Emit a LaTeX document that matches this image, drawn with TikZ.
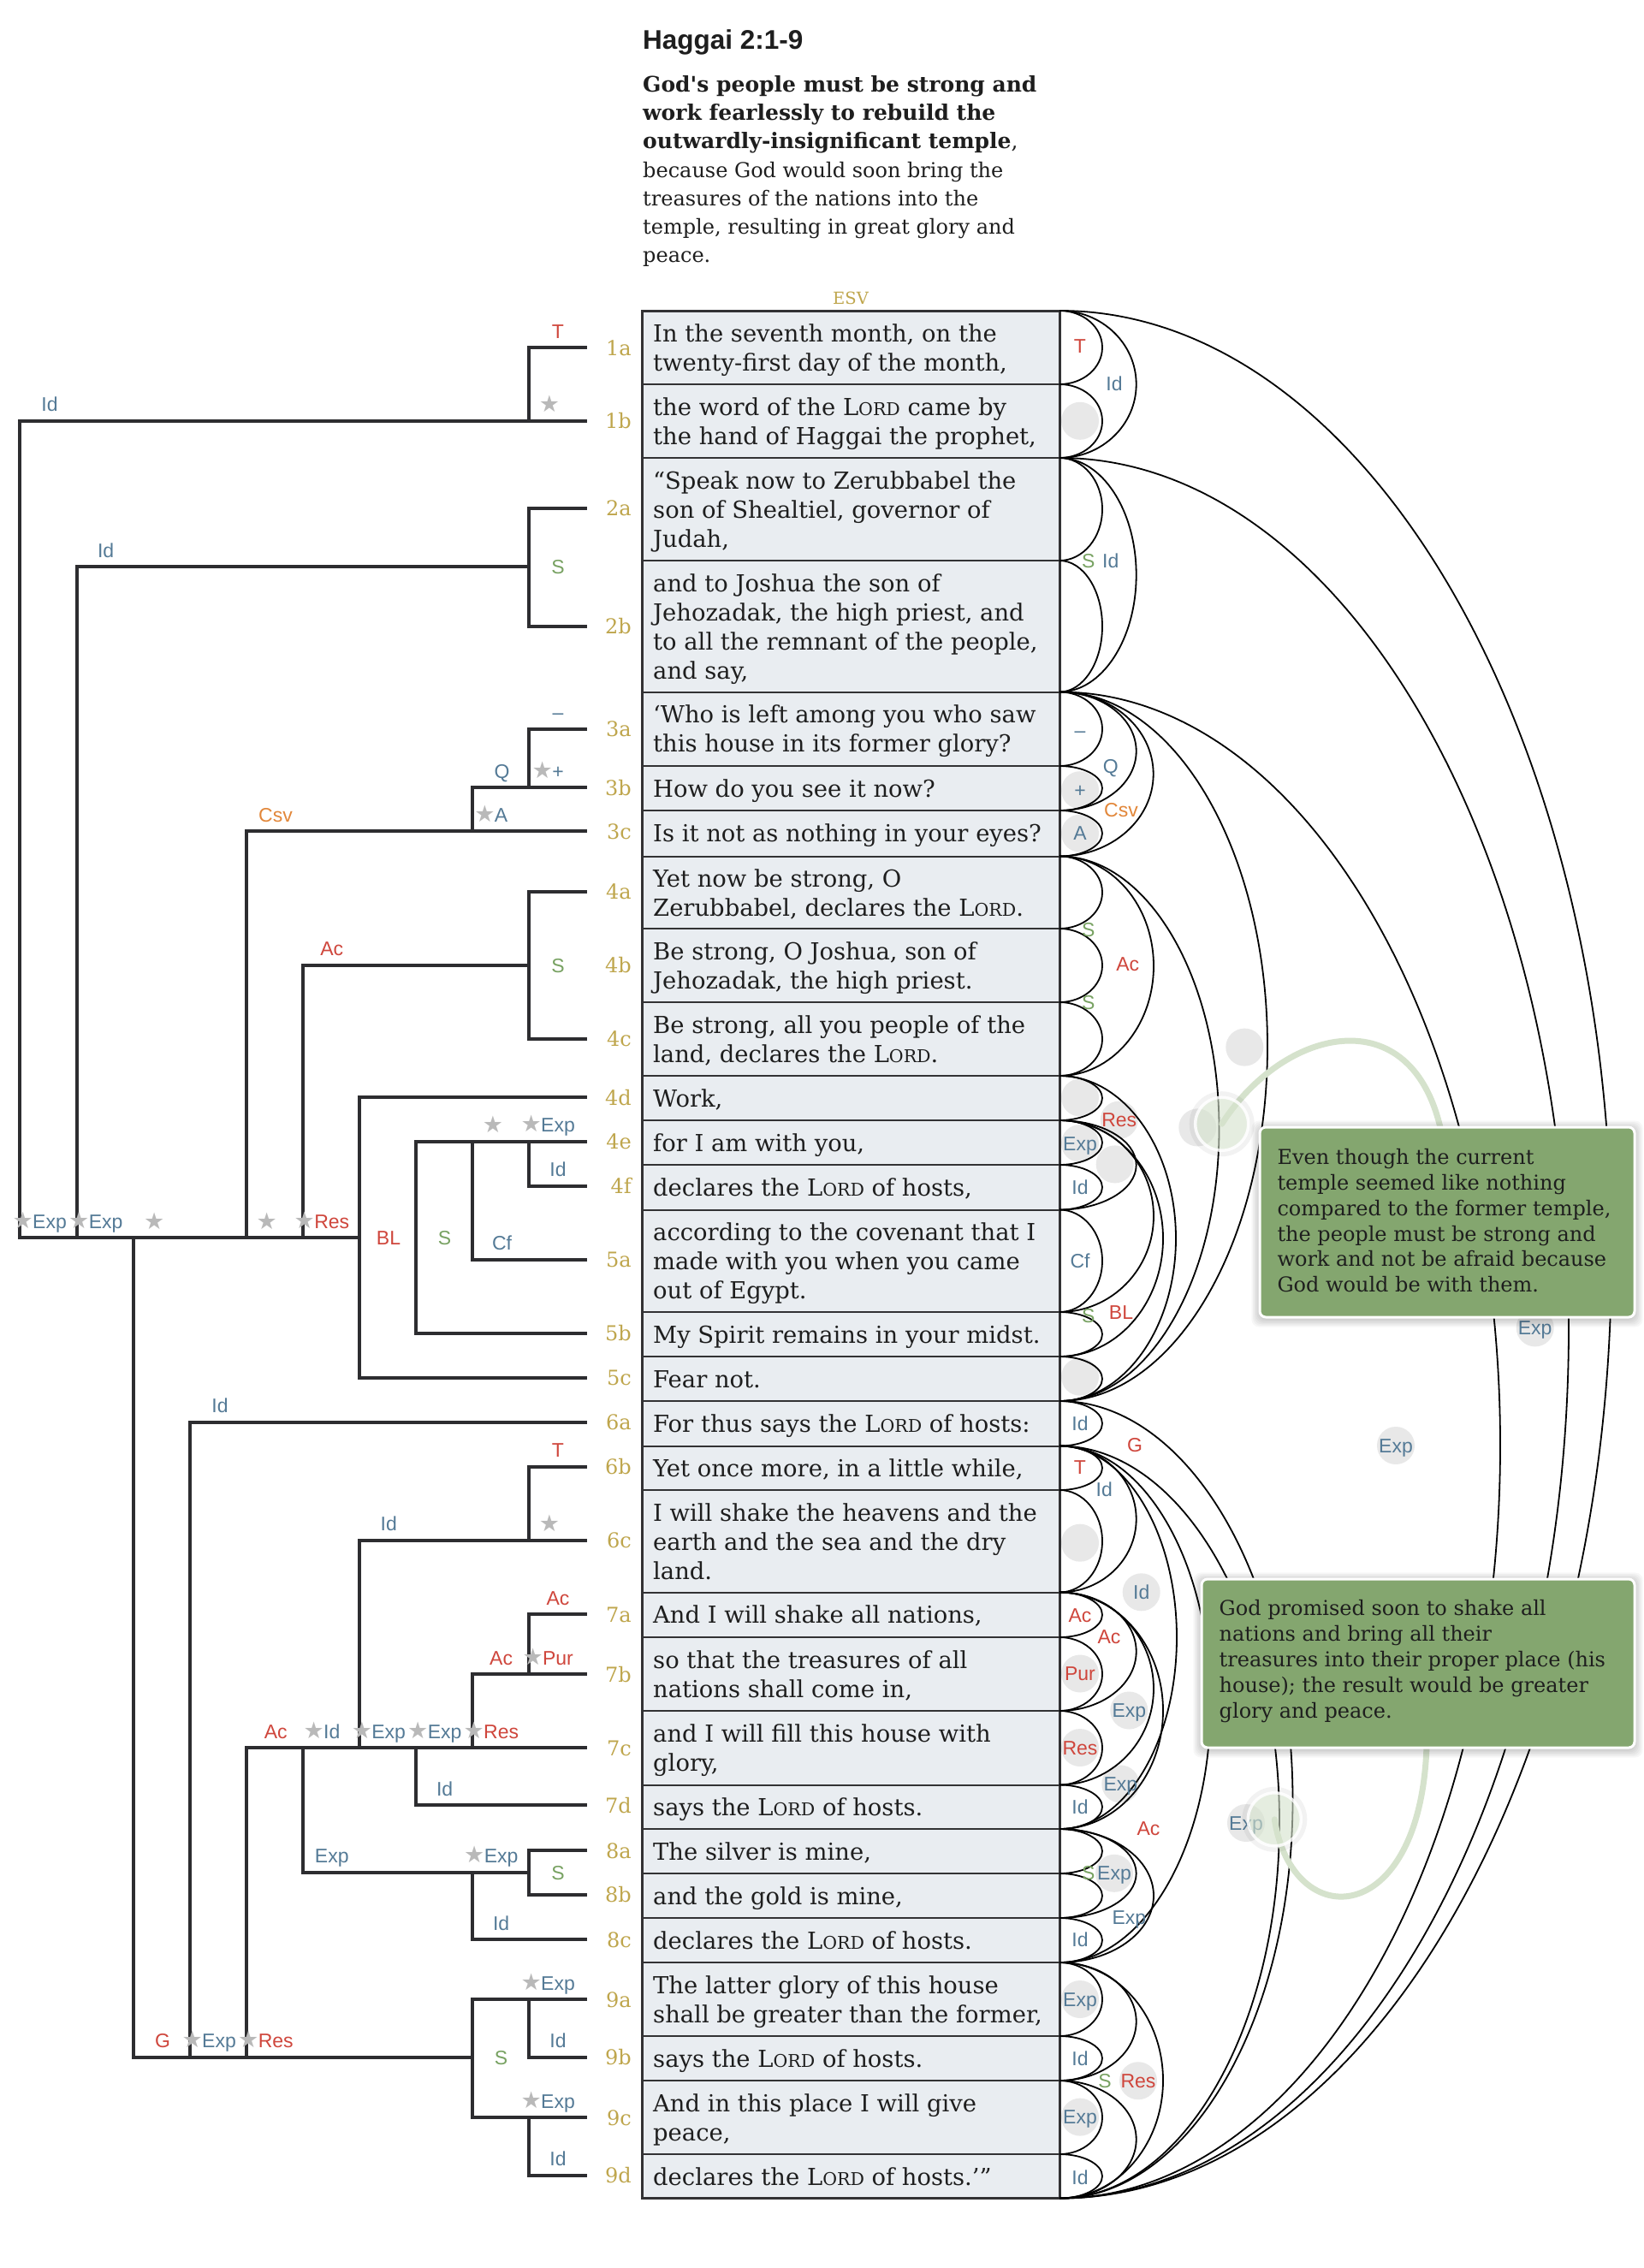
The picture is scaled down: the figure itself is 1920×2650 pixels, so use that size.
\documentclass[tikz,border=0pt]{standalone}
\usepackage{fontspec}
\setmainfont{DejaVu Serif}
\newfontfamily\labf{Liberation Sans}
\newfontfamily\starf{DejaVu Sans}
\definecolor{gold}{RGB}{191,166,77}
\definecolor{lblue}{RGB}{84,122,150}
\definecolor{lred}{RGB}{207,70,60}
\definecolor{lgreen}{RGB}{120,162,98}
\definecolor{lorange}{RGB}{226,135,58}
\definecolor{stargray}{RGB}{185,185,185}
\definecolor{cellfill}{RGB}{233,237,241}
\definecolor{cellline}{RGB}{50,50,52}
\definecolor{linec}{RGB}{45,45,48}
\definecolor{textc}{RGB}{30,30,30}
\definecolor{circfill}{RGB}{232,232,232}
\definecolor{boxgreen}{RGB}{132,166,111}
\definecolor{palegreen}{RGB}{213,226,204}
\newcommand\Lrd{L{\fontsize{20.5}{20}\selectfont ORD}}
\newcommand\sg[5]{\node[lab,text=#4] (#1) at (#2,#3) {#5};}
\newcommand\ssg[5]{\node[lab,text=#4] (#1) at (#2,#3) {#5};\node[starn] (#1s) at ([xshift=1pt]#1.base west) {★};}
\newcommand\lst[3]{\node[starn,anchor=base] (#1) at (#2,#3) {★};}
\newcommand\rl[5]{\node[lab,text=#4] (#1) at (#2,#3+8) {#5};}
\newcommand\gc[3]{\fill[circfill] (#2,#3) coordinate (#1) circle[radius=22pt];}
\begin{document}
\begin{tikzpicture}[x=1pt,y=-1pt,
  tline/.style={draw=linec, line width=4pt, line cap=rect, line join=miter},
  cellbox/.style={fill=cellfill, draw=cellline, line width=2pt},
  arcl/.style={draw=black, line width=1.8pt},
  vt/.style={anchor=base west, inner sep=0pt, text=textc, font=\fontsize{27.4}{34.2}\selectfont},
  vl/.style={anchor=base east, inner sep=0pt, text=gold, font=\fontsize{24}{24}\selectfont},
  lab/.style={anchor=base, inner sep=0pt, font=\labf\fontsize{23}{23}\selectfont},
  starn/.style={anchor=base east, inner sep=0pt, text=stargray, font=\starf\fontsize{27}{27}\selectfont},
  bt/.style={anchor=base west, inner sep=0pt, text=textc, font=\fontsize{24}{29.8}\selectfont},
  hd/.style={anchor=base west, inner sep=0pt, text=textc, font=\fontsize{24}{33}\selectfont},
  hb/.style={anchor=base west, inner sep=0pt, text=textc, font=\bfseries\fontsize{25}{33}\selectfont}]
\useasboundingbox (0,0) rectangle (1920,2650);
\fill[white] (0,0) rectangle (1920,2650);

% header
\node[anchor=base west, inner sep=0pt, text=textc, font=\labf\bfseries\fontsize{31.5}{31.5}\selectfont] (title) at (751,57) {Haggai 2:1-9};
\node[hb] (h1) at (751,107) {God\textquotesingle s people must be strong and};
\node[hb] (h2) at (751,140) {work fearlessly to rebuild the};
\node[hb] (h3) at (751,173.5) {outwardly-insignificant temple{\mdseries ,}};
\node[hd] (h4) at (751,207) {because God would soon bring the};
\node[hd] (h5) at (751,240) {treasures of the nations into the};
\node[hd] (h6) at (751,273) {temple, resulting in great glory and};
\node[hd] (h7) at (751,306.5) {peace.};
\node[anchor=base, inner sep=0pt, text=gold, font=\fontsize{19.5}{19.5}\selectfont] (esv) at (994,355) {ESV};

% table cells
\foreach \a/\b in {363/449,449/535,535/655,655/808.5,808.5/895,895/947,947/1000.5,1000.5/1085,1085/1171,1171/1257,1257/1309,1309/1361,1361/1413.5,1413.5/1533,1533/1585,1585/1637,1637/1689.5,1689.5/1741,1741/1860.5,1860.5/1913,1913/1999,1999/2085.5,2085.5/2137,2137/2189,2189/2241,2241/2293,2293/2379,2379/2431,2431/2517,2517/2568.5}
  {\draw[cellbox] (750,\a) rectangle (1238,\b);}
\draw[draw=cellline, line width=3pt] (750,363) rectangle (1238,2568.5);

% table text
\node[vt] (t1a1) at (763,399) {In the seventh month, on the};
\node[vt] (t1a2) at (763,433.2) {twenty-first day of the month,};
\node[vt] (t1b1) at (763,485) {the word of the \Lrd{} came by};
\node[vt] (t1b2) at (763,519.2) {the hand of Haggai the prophet,};
\node[vt] (t2a1) at (763,571) {“Speak now to Zerubbabel the};
\node[vt] (t2a2) at (763,605.2) {son of Shealtiel, governor of};
\node[vt] (t2a3) at (763,639.4) {Judah,};
\node[vt] (t2b1) at (763,691) {and to Joshua the son of};
\node[vt] (t2b2) at (763,725.2) {Jehozadak, the high priest, and};
\node[vt] (t2b3) at (763,759.4) {to all the remnant of the people,};
\node[vt] (t2b4) at (763,793.6) {and say,};
\node[vt] (t3a1) at (763,844.5) {‘Who is left among you who saw};
\node[vt] (t3a2) at (763,878.7) {this house in its former glory?};
\node[vt] (t3b1) at (763,931) {How do you see it now?};
\node[vt] (t3c1) at (763,983) {Is it not as nothing in your eyes?};
\node[vt] (t4a1) at (763,1036.5) {Yet now be strong, O};
\node[vt] (t4a2) at (763,1070.7) {Zerubbabel, declares the \Lrd.};
\node[vt] (t4b1) at (763,1121) {Be strong, O Joshua, son of};
\node[vt] (t4b2) at (763,1155.2) {Jehozadak, the high priest.};
\node[vt] (t4c1) at (763,1207) {Be strong, all you people of the};
\node[vt] (t4c2) at (763,1241.2) {land, declares the \Lrd.};
\node[vt] (t4d1) at (763,1293) {Work,};
\node[vt] (t4e1) at (763,1345) {for I am with you,};
\node[vt] (t4f1) at (763,1397) {declares the \Lrd{} of hosts,};
\node[vt] (t5a1) at (763,1449.5) {according to the covenant that I};
\node[vt] (t5a2) at (763,1483.7) {made with you when you came};
\node[vt] (t5a3) at (763,1517.9) {out of Egypt.};
\node[vt] (t5b1) at (763,1569) {My Spirit remains in your midst.};
\node[vt] (t5c1) at (763,1621) {Fear not.};
\node[vt] (t6a1) at (763,1673) {For thus says the \Lrd{} of hosts:};
\node[vt] (t6b1) at (763,1725.5) {Yet once more, in a little while,};
\node[vt] (t6c1) at (763,1777) {I will shake the heavens and the};
\node[vt] (t6c2) at (763,1811.2) {earth and the sea and the dry};
\node[vt] (t6c3) at (763,1845.4) {land.};
\node[vt] (t7a1) at (763,1896.5) {And I will shake all nations,};
\node[vt] (t7b1) at (763,1949) {so that the treasures of all};
\node[vt] (t7b2) at (763,1983.2) {nations shall come in,};
\node[vt] (t7c1) at (763,2035) {and I will fill this house with};
\node[vt] (t7c2) at (763,2069.2) {glory,};
\node[vt] (t7d1) at (763,2121.5) {says the \Lrd{} of hosts.};
\node[vt] (t8a1) at (763,2173) {The silver is mine,};
\node[vt] (t8b1) at (763,2225) {and the gold is mine,};
\node[vt] (t8c1) at (763,2277) {declares the \Lrd{} of hosts.};
\node[vt] (t9a1) at (763,2329) {The latter glory of this house};
\node[vt] (t9a2) at (763,2363.2) {shall be greater than the former,};
\node[vt] (t9b1) at (763,2415) {says the \Lrd{} of hosts.};
\node[vt] (t9c1) at (763,2467) {And in this place I will give};
\node[vt] (t9c2) at (763,2501.2) {peace,};
\node[vt] (t9d1) at (763,2553) {declares the \Lrd{} of hosts.’”};

% verse labels
\foreach \v/\y in {1a/406,1b/491.5,2a/593.8,2b/731.8,3a/851.8,3b/920,3c/971.3,4a/1041.5,4b/1127.7,4c/1213.5,4d/1282,4e/1333.7,4f/1385.6,5a/1471.8,5b/1557.6,5c/1609.5,6a/1661.5,6b/1713.8,6c/1799.9,7a/1886,7b/1956,7c/2042.2,7d/2109,8a/2162,8b/2213.8,8c/2266,9a/2336,9b/2403.8,9c/2474,9d/2541.6}
  {\node[vl] (v\v) at (738,\y+9) {\v};}

% tree
\draw[tline] (684,406) -- (618,406) -- (618,491.5);
\draw[tline] (23.3,1446) -- (23.3,491.5) -- (684,491.5);
\draw[tline] (684,593.8) -- (618,593.8) -- (618,731.8) -- (684,731.8);
\draw[tline] (89.7,1446) -- (89.7,662) -- (618,662);
\draw[tline] (684,851.8) -- (618,851.8) -- (618,920);
\draw[tline] (287.6,1446) -- (287.6,971.3) -- (684,971.3);
\draw[tline] (551.7,971.3) -- (551.7,920) -- (684,920);
\draw[tline] (684,1041.5) -- (618,1041.5) -- (618,1213.5) -- (684,1213.5);
\draw[tline] (353.9,1446) -- (353.9,1127.7) -- (618,1127.7);
\draw[tline] (23.3,1446) -- (419.5,1446);
\draw[tline] (684,1282) -- (419.5,1282) -- (419.5,1609.5) -- (684,1609.5);
\draw[tline] (684,1333.7) -- (485.7,1333.7) -- (485.7,1557.6) -- (684,1557.6);
\draw[tline] (551.7,1333.7) -- (551.7,1471.8) -- (684,1471.8);
\draw[tline] (618,1333.7) -- (618,1385.6) -- (684,1385.6);
\draw[tline] (156.1,1446) -- (156.1,2403.8) -- (551.7,2403.8);
\draw[tline] (684,1661.5) -- (222,1661.5) -- (222,2403.8);
\draw[tline] (684,1713.8) -- (618,1713.8) -- (618,1799.9);
\draw[tline] (287.6,2403.8) -- (287.6,2042.2) -- (684,2042.2);
\draw[tline] (419.5,2042.2) -- (419.5,1799.9) -- (684,1799.9);
\draw[tline] (684,1886) -- (618,1886) -- (618,1956);
\draw[tline] (551.7,2042.2) -- (551.7,1956) -- (684,1956);
\draw[tline] (485.7,2042.2) -- (485.7,2109) -- (684,2109);
\draw[tline] (353.9,2042.2) -- (353.9,2187.6) -- (618,2187.6);
\draw[tline] (684,2162) -- (618,2162) -- (618,2213.8) -- (684,2213.8);
\draw[tline] (551.7,2187.6) -- (551.7,2266) -- (684,2266);
\draw[tline] (684,2336) -- (551.7,2336) -- (551.7,2474) -- (684,2474);
\draw[tline] (618,2336) -- (618,2403.8) -- (684,2403.8);
\draw[tline] (618,2474) -- (618,2541.6) -- (684,2541.6);

% tree labels
\sg{lT1}{652}{395}{lred}{T}
\lst{ls1}{642}{481.5}
\sg{lId1}{58}{480.5}{lblue}{Id}
\sg{lId2}{123.6}{651}{lblue}{Id}
\sg{lS1}{652}{670}{lgreen}{S}
\sg{lm3a}{652}{840.8}{lblue}{–}
\ssg{lp3b}{652}{909}{lblue}{+}
\sg{lQ}{586.5}{909}{lblue}{Q}
\ssg{lA}{585.6}{960.3}{lblue}{A}
\sg{lCsv}{322}{960.3}{lorange}{Csv}
\sg{lS2}{652}{1136}{lgreen}{S}
\sg{lAc1}{387.8}{1116.7}{lred}{Ac}
\ssg{lE1}{58}{1435}{lblue}{Exp}
\ssg{lE2}{123.6}{1435}{lblue}{Exp}
\lst{ls2}{180.3}{1436}
\lst{ls3}{311.7}{1436}
\ssg{lRes1}{387.8}{1435}{lred}{Res}
\sg{lBL}{454}{1454}{lred}{BL}
\sg{lS3}{519.6}{1454}{lgreen}{S}
\lst{ls4}{575.9}{1323.7}
\ssg{lE3}{652}{1322.7}{lblue}{Exp}
\sg{lId3}{652}{1374.6}{lblue}{Id}
\sg{lCf}{586.5}{1460.8}{lblue}{Cf}
\sg{lId4}{257}{1650.5}{lblue}{Id}
\sg{lT2}{652}{1702.8}{lred}{T}
\lst{ls5}{642}{1789.9}
\sg{lId5}{454.2}{1788.9}{lblue}{Id}
\sg{lAc2}{652}{1875}{lred}{Ac}
\ssg{lPur}{652}{1945}{lred}{Pur}
\sg{lAc3}{585.6}{1945}{lred}{Ac}
\sg{lAc4}{322.3}{2031.2}{lred}{Ac}
\ssg{lId6}{387.8}{2031.2}{lblue}{Id}
\ssg{lE4}{454.2}{2031.2}{lblue}{Exp}
\ssg{lE5}{519.6}{2031.2}{lblue}{Exp}
\ssg{lRes2}{585.6}{2031.2}{lred}{Res}
\sg{lId7}{519.6}{2098}{lblue}{Id}
\sg{lE6}{387.8}{2176.6}{lblue}{Exp}
\ssg{lE7}{585.6}{2176.6}{lblue}{Exp}
\sg{lS4}{652}{2196}{lgreen}{S}
\sg{lId8}{585.6}{2255}{lblue}{Id}
\ssg{lE8}{652}{2325}{lblue}{Exp}
\sg{lId9}{652}{2392.8}{lblue}{Id}
\ssg{lE9}{652}{2463}{lblue}{Exp}
\sg{lId10}{652}{2530.6}{lblue}{Id}
\sg{lS5}{585.6}{2412}{lgreen}{S}
\sg{lG}{190}{2392.8}{lred}{G}
\ssg{lE10}{256}{2392.8}{lblue}{Exp}
\ssg{lRes3}{322.3}{2392.8}{lred}{Res}

% label circles (right)
\gc{c1}{1262}{491.8}
\gc{c2}{1262}{923.2}
\gc{c3}{1262}{973.7}
\gc{c4}{1262}{1282.5}
\gc{c5}{1307.7}{1308.6}
\gc{c6}{1262}{1336}
\gc{c7}{1302.7}{1360.4}
\gc{c8}{1262}{1608.7}
\gc{c9}{1454.3}{1223.6}
\gc{c10}{1399.3}{1317.4}
\gc{c11}{1793.7}{1551.4}
\gc{c12}{1631}{1689}
\gc{c13}{1262}{1802.7}
\gc{c14}{1333.7}{1860.3}
\gc{c15}{1262}{1955.5}
\gc{c16}{1319.3}{1998.5}
\gc{c17}{1262}{2042}
\gc{c18}{1309.3}{2084.5}
\gc{c19}{1302}{2188.8}
\gc{c20}{1262}{2336}
\gc{c21}{1330}{2431.2}
\gc{c22}{1262}{2473.6}
\gc{c23}{1456}{2130}

% leaf arcs
\foreach \a/\b in {363/449,449/535,535/655,655/808.5,808.5/895,895/947,947/1000.5,1000.5/1085,1085/1171,1171/1257,1257/1309,1309/1361,1361/1413.5,1413.5/1533,1533/1585,1585/1637,1637/1689.5,1689.5/1741,1741/1860.5,1860.5/1913,1913/1999,1999/2085.5,2085.5/2137,2137/2189,2189/2241,2241/2293,2293/2379,2379/2431,2431/2517,2517/2568.5}
  {\pgfmathsetmacro\ry{(\b-\a)/2}
   \draw[arcl] (1238,\a) arc[start angle=90,end angle=-90,x radius=50pt,y radius=\ry pt];}
% group arcs
\foreach \a/\b/\r in {363/535/89.7,535/808.5/89.7,808.5/947/89.7,808.5/1000.5/109.7,1000.5/1257/110,1309/1413.5/89.7,1309/1533/110,1309/1585/121,1257/1637/136,1000.5/1637/186.5,808.5/1637/243,808.5/2568.5/515,535/2568.5/595,363/2568.5/645,1689.5/1860.5/89.7,1860.5/1999/89.7,1860.5/2085.5/110,1860.5/2137/121,1689.5/2137/137,2137/2241/89.7,2137/2293/110,1689.5/2293/176.5,2293/2431/89.7,2431/2568.5/89.7,2293/2568.5/121,1689.5/2568.5/257,1637/2568.5/272.5}
  {\pgfmathsetmacro\ry{(\b-\a)/2}
   \draw[arcl] (1238,\a) arc[start angle=90,end angle=-90,x radius=\r pt,y radius=\ry pt];}

% right labels
\rl{r1}{1262}{404.7}{lred}{T}
\rl{r2}{1302}{448.4}{lblue}{Id}
\rl{r3}{1271.7}{655}{lgreen}{S}
\rl{r4}{1297.7}{655}{lblue}{Id}
\rl{r5}{1262}{853}{lblue}{–}
\rl{r6}{1297.7}{895}{lblue}{Q}
\rl{r7}{1262}{923.2}{lblue}{+}
\rl{r8}{1310}{946.3}{lorange}{Csv}
\rl{r9}{1262}{973.7}{lblue}{A}
\rl{r10}{1271.7}{1086}{lgreen}{S}
\rl{r11}{1317.7}{1126.8}{lred}{Ac}
\rl{r12}{1271.7}{1171.8}{lgreen}{S}
\rl{r13}{1307.7}{1308.6}{lred}{Res}
\rl{r14}{1262}{1336}{lblue}{Exp}
\rl{r15}{1262}{1387.7}{lblue}{Id}
\rl{r16}{1262}{1473.2}{lblue}{Cf}
\rl{r17}{1271.7}{1537.1}{lgreen}{S}
\rl{r18}{1310}{1533}{lred}{BL}
\rl{r19}{1793.7}{1551.4}{lblue}{Exp}
\rl{r20}{1262}{1663.3}{lblue}{Id}
\rl{r21}{1326}{1688.8}{lred}{G}
\rl{r22}{1631}{1689}{lblue}{Exp}
\rl{r23}{1262}{1714.8}{lred}{T}
\rl{r24}{1290.3}{1740.3}{lblue}{Id}
\rl{r25}{1333.7}{1860.3}{lblue}{Id}
\rl{r26}{1262}{1887.6}{lred}{Ac}
\rl{r27}{1296}{1912.4}{lred}{Ac}
\rl{r28}{1262}{1955.5}{lred}{Pur}
\rl{r29}{1319.3}{1998.5}{lblue}{Exp}
\rl{r30}{1262}{2042}{lred}{Res}
\rl{r31}{1309.3}{2084.5}{lblue}{Exp}
\rl{r32}{1262}{2111.8}{lblue}{Id}
\rl{r33}{1342}{2136.7}{lred}{Ac}
\rl{r34}{1271.7}{2188.8}{lgreen}{S}
\rl{r35}{1302}{2188.8}{lblue}{Exp}
\rl{r36}{1319.3}{2240.9}{lblue}{Exp}
\rl{r37}{1262}{2266.4}{lblue}{Id}
\rl{r38}{1262}{2336}{lblue}{Exp}
\rl{r39}{1262}{2405.8}{lblue}{Id}
\rl{r40}{1291}{2431.2}{lgreen}{S}
\rl{r41}{1330}{2431.2}{lred}{Res}
\rl{r42}{1262}{2473.6}{lblue}{Exp}
\rl{r43}{1262}{2544}{lblue}{Id}
\rl{r44}{1456}{2130}{lblue}{Exp}

% annotation connectors
\coordinate (ring1) at (1427.7,1313.2);
\coordinate (ring2) at (1489.3,2125.8);
\coordinate (box1top) at (1684,1322);
\coordinate (box2bot) at (1667,2040);
\draw[palegreen, line width=7pt, line cap=round] (ring1) .. controls (1500,1200) and (1650,1165) .. (box1top);
\draw[palegreen, line width=7pt, line cap=round] (ring2) .. controls (1510,2260) and (1660,2255) .. (box2bot);
\foreach \c in {ring1,ring2}{
  \draw[black, opacity=0.05, line width=8pt] (\c) circle[radius=34pt];
  \fill[palegreen, opacity=0.6] (\c) circle[radius=30pt];
  \draw[white, opacity=0.85, line width=3.5pt] (\c) circle[radius=31pt];
}

% boxes
\foreach \i in {1,...,6}{
  \fill[black, opacity=0.03, rounded corners=9pt] ({1472-1.6*\i},{1317-1.6*\i+2}) rectangle ({1910+1.6*\i},{1539+1.6*\i+2});
  \fill[black, opacity=0.03, rounded corners=9pt] ({1404-1.6*\i},{1845-1.6*\i+2}) rectangle ({1910+1.6*\i},{2042+1.6*\i+2});
}
\draw[fill=boxgreen, draw=white, line width=3pt, rounded corners=7pt] (1472,1317) rectangle (1910,1539);
\draw[fill=boxgreen, draw=white, line width=3pt, rounded corners=7pt] (1404,1845) rectangle (1910,2042);
\node[bt] (b1l1) at (1492.3,1360.7) {Even though the current};
\node[bt] (b1l2) at (1492.3,1390.5) {temple seemed like nothing};
\node[bt] (b1l3) at (1492.3,1420.3) {compared to the former temple,};
\node[bt] (b1l4) at (1492.3,1450.1) {the people must be strong and};
\node[bt] (b1l5) at (1492.3,1479.9) {work and not be afraid because};
\node[bt] (b1l6) at (1492.3,1509.7) {God would be with them.};
\node[bt] (b2l1) at (1424.5,1887) {God promised soon to shake all};
\node[bt] (b2l2) at (1424.5,1917) {nations and bring all their};
\node[bt] (b2l3) at (1424.5,1947) {treasures into their proper place (his};
\node[bt] (b2l4) at (1424.5,1977) {house); the result would be greater};
\node[bt] (b2l5) at (1424.5,2007) {glory and peace.};
\end{tikzpicture}
\end{document}
